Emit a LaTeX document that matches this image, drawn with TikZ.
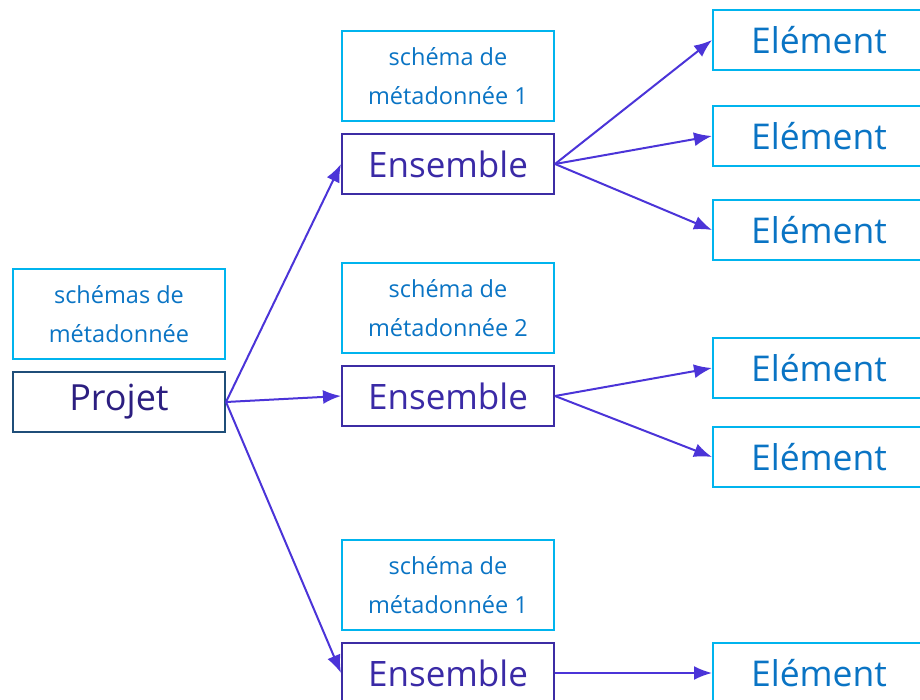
\documentclass[tikz,border=0pt]{standalone}
\usepackage{fontspec}
\setmainfont{Open Sans}
\usetikzlibrary{arrows.meta, positioning}

\definecolor{schemaline}{HTML}{00B4EE}
\definecolor{schematext}{HTML}{0A74C4}
\definecolor{setline}{HTML}{3C2CA4}
\definecolor{settext}{HTML}{3A2AA6}
\definecolor{projline}{HTML}{1F4E79}
\definecolor{projtext}{HTML}{2C1E80}
\definecolor{arrowcol}{HTML}{4B34D8}

\begin{document}
\begin{tikzpicture}[x=1pt,y=-1pt]

\tikzset{schema/.style = {draw=schemaline, line width=2pt, minimum width=212pt, minimum height=90pt, align=center, text=schematext, font=\fontsize{23.5}{39}\selectfont}}
\tikzset{set/.style = {draw=setline, line width=2pt, minimum width=212pt, minimum height=60pt, text=settext, font=\fontsize{35}{38}\selectfont}}
\tikzset{elem/.style = {draw=schemaline, line width=2pt, minimum width=212pt, minimum height=60pt, text=schematext, font=\fontsize{35.5}{38}\selectfont}}
\tikzset{proj/.style = {draw=projline, line width=2pt, minimum width=212pt, minimum height=60pt, text=projtext, font=\fontsize{36}{38}\selectfont}}
\tikzset{edge/.style = {->, > = {Latex[length=18pt,width=14pt]}, draw=arrowcol, fill=arrowcol, line width=2pt}}

\useasboundingbox (0,0) rectangle (920,700);
\clip (0,0) rectangle (920,700);

% vertices
\node[schema] (sp) at (119,314) {schémas de\\métadonnée};
\node[proj] (p) at (119,402) {Projet};
\node[schema] (s1) at (448,76) {schéma de\\métadonnée 1};
\node[set] (e1) at (448,164) {Ensemble};
\node[schema] (s2) at (448,308) {schéma de\\métadonnée 2};
\node[set] (e2) at (448,396) {Ensemble};
\node[schema] (s3) at (448,585) {schéma de\\métadonnée 1};
\node[set] (e3) at (448,673) {Ensemble};
\node[elem] (a1) at (819,40) {Elément};
\node[elem] (a2) at (819,136) {Elément};
\node[elem] (a3) at (819,230) {Elément};
\node[elem] (b1) at (819,368) {Elément};
\node[elem] (b2) at (819,457) {Elément};
\node[elem] (c1) at (819,673) {Elément};
%edges
\draw [edge] (p.east) -- (e1.west);
\draw [edge] (p.east) -- (e2.west);
\draw [edge] (p.east) -- (e3.west);
\draw [edge] (e1.east) -- (a1.west);
\draw [edge] (e1.east) -- (a2.west);
\draw [edge] (e1.east) -- (a3.west);
\draw [edge] (e2.east) -- (b1.west);
\draw [edge] (e2.east) -- (b2.west);
\draw [edge] (e3.east) -- (c1.west);
\end{tikzpicture}
\end{document}
